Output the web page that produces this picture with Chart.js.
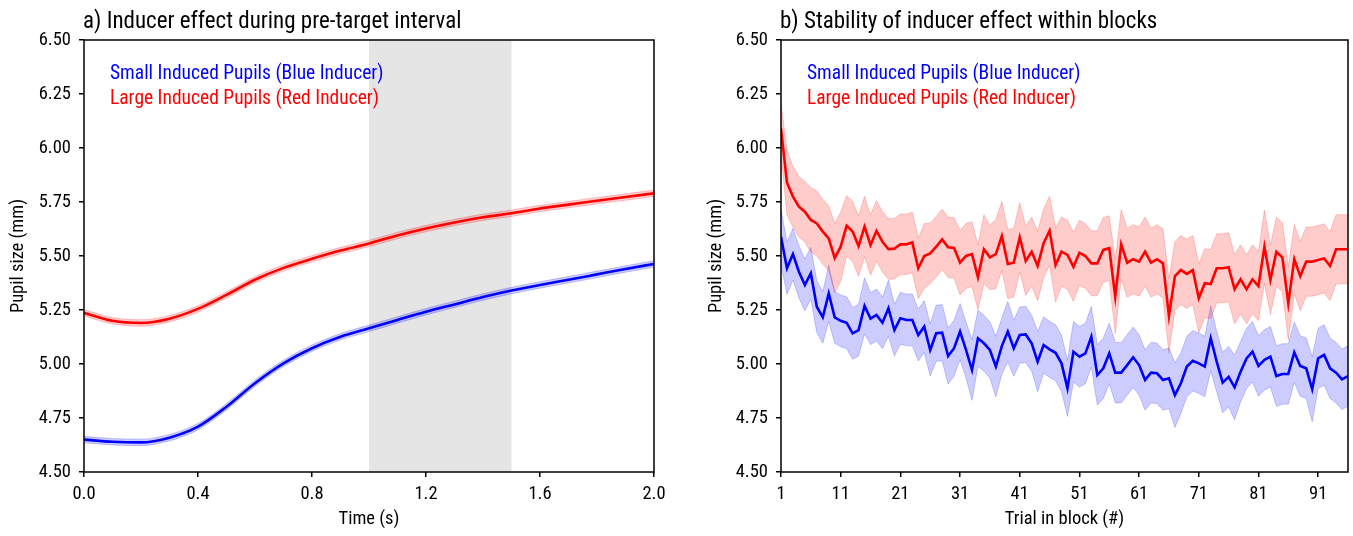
<!DOCTYPE html>
<html><head><meta charset="utf-8">
<script src="https://cdn.jsdelivr.net/npm/chart.js@4.4.1/dist/chart.umd.min.js"></script>
<style>
html,body{margin:0;padding:0;background:#fff;width:1353px;height:536px;overflow:hidden}
#wa{position:absolute;left:0;top:0;width:677px;height:536px}
#wb{position:absolute;left:677px;top:0;width:676px;height:536px}
</style></head><body>
<div id="wa"><canvas id="ca"></canvas></div>
<div id="wb"><canvas id="cb"></canvas></div>
<script>
// ---------- Panel a data ----------
const timeS = [0.0,0.1,0.2,0.3,0.4,0.5,0.6,0.7,0.8,0.9,1.0,1.1,1.2,1.3,1.4,1.5,1.6,1.7,1.8,1.9,2.0];
const redA  = [5.237,5.200,5.190,5.210,5.255,5.320,5.390,5.445,5.487,5.525,5.558,5.595,5.627,5.655,5.679,5.698,5.720,5.738,5.756,5.773,5.790];
const blueA = [4.650,4.640,4.637,4.659,4.710,4.802,4.911,5.003,5.073,5.126,5.165,5.204,5.242,5.276,5.310,5.340,5.366,5.390,5.415,5.440,5.463];
const redAErr  = [0.015,0.015,0.015,0.015,0.015,0.015,0.015,0.015,0.015,0.015,0.015,0.015,0.015,0.015,0.015,0.015,0.015,0.015,0.015,0.015,0.015];
const blueAErr = [0.015,0.015,0.015,0.015,0.015,0.015,0.015,0.015,0.015,0.015,0.015,0.015,0.015,0.015,0.015,0.015,0.015,0.015,0.015,0.015,0.015];
const shadeSpan = [1.0, 1.5];
const timeTicks = [0.0,0.4,0.8,1.2,1.6,2.0];

// ---------- Panel b data ----------
const trialCount = 96;
const trials = Array.from({length: trialCount}, (_, i) => i + 1);
const redB = [6.090,5.840,5.775,5.728,5.705,5.667,5.651,5.613,5.582,5.490,
  5.543,5.640,5.613,5.546,5.636,5.551,5.616,5.566,5.532,5.534,
  5.554,5.554,5.563,5.443,5.500,5.512,5.543,5.577,5.540,5.537,
  5.469,5.500,5.509,5.401,5.531,5.494,5.509,5.593,5.463,5.469,
  5.587,5.477,5.520,5.454,5.559,5.617,5.458,5.520,5.505,5.450,
  5.515,5.500,5.466,5.466,5.528,5.536,5.312,5.554,5.469,5.485,
  5.474,5.520,5.469,5.485,5.466,5.222,5.407,5.435,5.417,5.435,
  5.304,5.374,5.370,5.443,5.443,5.448,5.346,5.392,5.346,5.392,
  5.361,5.543,5.389,5.520,5.494,5.281,5.485,5.407,5.474,5.474,
  5.481,5.489,5.454,5.531,5.531,5.531];
const blueB = [5.589,5.443,5.509,5.427,5.366,5.420,5.265,5.216,5.327,5.216,
  5.200,5.191,5.142,5.157,5.269,5.210,5.227,5.191,5.258,5.157,
  5.212,5.204,5.204,5.134,5.173,5.065,5.142,5.145,5.037,5.073,
  5.150,5.065,4.972,5.119,5.096,5.065,4.988,5.083,5.150,5.073,
  5.134,5.137,5.096,5.011,5.088,5.068,5.052,5.003,4.887,5.057,
  5.034,5.049,5.126,4.949,4.980,5.049,4.960,4.960,4.995,5.031,
  4.995,4.926,4.960,4.957,4.926,4.934,4.856,4.911,4.988,5.015,
  5.003,4.988,5.119,5.011,4.914,4.941,4.892,4.964,5.026,5.057,
  4.991,5.019,5.034,4.944,4.954,4.954,5.054,4.991,4.980,4.883,
  5.026,5.042,4.980,4.960,4.929,4.944];
const redBErr = [0.12,0.15,0.14,0.14,0.14,0.15,0.15,0.15,0.15,0.16,
  0.16,0.14,0.14,0.14,0.14,0.14,0.14,0.14,0.14,0.14,
  0.14,0.14,0.14,0.14,0.15,0.14,0.14,0.14,0.14,0.14,
  0.15,0.15,0.15,0.15,0.16,0.15,0.16,0.16,0.16,0.16,
  0.16,0.16,0.16,0.16,0.16,0.16,0.17,0.16,0.16,0.16,
  0.15,0.15,0.15,0.15,0.15,0.15,0.17,0.16,0.16,0.16,
  0.16,0.16,0.16,0.16,0.16,0.17,0.16,0.16,0.16,0.16,
  0.16,0.16,0.16,0.16,0.16,0.16,0.16,0.16,0.16,0.16,
  0.16,0.17,0.16,0.16,0.16,0.17,0.16,0.16,0.16,0.16,
  0.16,0.16,0.16,0.16,0.16,0.16];
const blueBErr = [0.13,0.12,0.12,0.12,0.12,0.12,0.12,0.12,0.13,0.12,
  0.12,0.12,0.12,0.12,0.13,0.12,0.12,0.12,0.13,0.12,
  0.12,0.12,0.12,0.12,0.12,0.12,0.13,0.13,0.13,0.13,
  0.13,0.13,0.14,0.13,0.13,0.13,0.14,0.13,0.14,0.13,
  0.13,0.13,0.13,0.14,0.13,0.13,0.13,0.13,0.13,0.14,
  0.14,0.14,0.14,0.14,0.14,0.14,0.14,0.14,0.14,0.14,
  0.14,0.14,0.14,0.14,0.14,0.14,0.15,0.14,0.14,0.14,
  0.14,0.14,0.15,0.14,0.14,0.14,0.15,0.14,0.14,0.14,
  0.14,0.14,0.14,0.14,0.14,0.14,0.14,0.14,0.14,0.15,
  0.14,0.14,0.14,0.14,0.14,0.14];
const trialTicks = [1,11,21,31,41,51,61,71,81,91];
const pupilTicks = [4.50,4.75,5.00,5.25,5.50,5.75,6.00,6.25,6.50];

const legendLabels = ['Small Induced Pupils (Blue Inducer)', 'Large Induced Pupils (Red Inducer)'];
const RED = '#ff0000', BLUE = '#0000ff';

// ---------- font pick ----------
function pickFont(){
  const ctx = document.createElement('canvas').getContext('2d');
  const s = 'abcdefghijklmnopqrstuvwxyz ABCDEFGH 0123456789';
  const cands = ['Roboto Condensed','Liberation Sans Narrow','DejaVu Sans Condensed','Roboto'];
  for (const f of cands){
    let ok = true;
    for (const base of ['monospace','serif']){
      ctx.font = '20px ' + base; const w0 = ctx.measureText(s).width;
      ctx.font = '20px "' + f + '", ' + base; const w1 = ctx.measureText(s).width;
      if (Math.abs(w0 - w1) < 0.5) ok = false;
    }
    if (ok) return f;
  }
  return 'sans-serif';
}
const FAM = pickFont();
const FF = '"' + FAM + '", sans-serif';
Chart.defaults.font.family = FF;
Chart.defaults.color = '#000';

const TICK_PX = 18.5, AXIS_PX = 18.5, TITLE_PX = 23, LEG_PX = 19.5;

function pts(xs, ys, off, sign){ return xs.map((x,i)=>({x:x, y: ys[i] + (off ? sign*off[i] : 0)})); }

const decoPlugin = {
  id: 'deco',
  beforeDatasetsDraw(chart, args, o){
    if (!o.span) return;
    const {ctx, chartArea:a, scales:{x}} = chart;
    const x0 = x.getPixelForValue(o.span[0]), x1 = x.getPixelForValue(o.span[1]);
    ctx.save(); ctx.fillStyle = '#e5e5e5';
    ctx.fillRect(x0, a.top, x1 - x0, a.bottom - a.top);
    ctx.restore();
  },
  afterDraw(chart, args, o){
    const {ctx, chartArea:a} = chart;
    ctx.save();
    ctx.strokeStyle = '#000'; ctx.lineWidth = 1.5;
    ctx.strokeRect(a.left, a.top, a.right - a.left, a.bottom - a.top);
    ctx.textBaseline = 'alphabetic';
    ctx.fillStyle = '#000'; ctx.textAlign = 'left';
    ctx.font = TITLE_PX + 'px ' + FF;
    ctx.fillText(o.title, a.left - 1, 28);
    ctx.font = LEG_PX + 'px ' + FF;
    ctx.fillStyle = BLUE; ctx.fillText(legendLabels[0], a.left + 26, 79);
    ctx.fillStyle = RED;  ctx.fillText(legendLabels[1], a.left + 26, 104);
    ctx.fillStyle = '#000'; ctx.font = AXIS_PX + 'px ' + FF;
    ctx.textAlign = 'center'; ctx.textBaseline = 'middle';
    ctx.fillText(o.xTitle, (a.left + a.right)/2, 519);
    ctx.translate(o.yTitleX, (a.top + a.bottom)/2);
    ctx.rotate(-Math.PI/2);
    ctx.fillText(o.yTitle, 0, 0);
    ctx.restore();
  }
};

function axisCommon(){
  return {
    grid: {drawOnChartArea:false, drawTicks:true, tickLength:5, color:'#000', lineWidth:1.5},
    border: {display:false},
  };
}

function makeChart(id, cfg){
  return new Chart(document.getElementById(id), {
    type: 'line',
    data: {datasets: cfg.datasets},
    plugins: [decoPlugin],
    options: {
      responsive: true, maintainAspectRatio: false, animation: false,
      layout: {padding: {top:40, right: cfg.padRight, bottom:0, left:0}},
      plugins: {legend:{display:false}, tooltip:{enabled:false}, title:{display:false},
        deco: {title: cfg.title, xTitle: cfg.xTitle, yTitle: 'Pupil size (mm)', yTitleX: cfg.yTitleX, span: cfg.span}},
      elements: {point:{radius:0}},
      scales: {
        x: Object.assign(axisCommon(), {
          type:'linear', min: cfg.xMin, max: cfg.xMax,
          afterBuildTicks: s => { s.ticks = cfg.xTicks.map(v => ({value:v})); },
          afterFit: s => { s.height = 64; },
          ticks: {font:{size:TICK_PX}, color:'#000', padding:6, maxRotation:0, autoSkip:false,
            callback: cfg.xFmt}
        }),
        y: Object.assign(axisCommon(), {
          type:'linear', min:4.5, max:6.5,
          afterBuildTicks: s => { s.ticks = pupilTicks.map(v => ({value:v})); },
          afterFit: s => { s.width = cfg.yWidth; },
          ticks: {font:{size:TICK_PX}, color:'#000', padding:8, callback: v => Number(v).toFixed(2)}
        })
      }
    }
  });
}

function bandSets(xs, ys, err, rgb, alpha, smooth){
  const base = {pointRadius:0, borderWidth:1, borderColor:`rgba(${rgb},${alpha})`, order:2,
    cubicInterpolationMode: smooth ? 'monotone' : 'default', tension:0};
  return [
    Object.assign({}, base, {data: pts(xs, ys, err, -1), fill:false}),
    Object.assign({}, base, {data: pts(xs, ys, err, +1), fill:'-1', backgroundColor:`rgba(${rgb},${alpha})`})
  ];
}

makeChart('ca', {
  title: 'a) Inducer effect during pre-target interval',
  xTitle: 'Time (s)', yTitleX: 18, padRight: 23, yWidth: 84,
  xMin: 0, xMax: 2, xTicks: timeTicks, xFmt: v => Number(v).toFixed(1), span: shadeSpan,
  datasets: [
    ...bandSets(timeS, redA, redAErr, '255,0,0', 0.2, true),
    ...bandSets(timeS, blueA, blueAErr, '0,0,255', 0.2, true),
    {data: pts(timeS, redA), borderColor: RED, borderWidth: 2.6, pointRadius:0, fill:false, cubicInterpolationMode:'monotone', order:0},
    {data: pts(timeS, blueA), borderColor: BLUE, borderWidth: 2.6, pointRadius:0, fill:false, cubicInterpolationMode:'monotone', order:0}
  ]
});

makeChart('cb', {
  title: 'b) Stability of inducer effect within blocks',
  xTitle: 'Trial in block (#)', yTitleX: 39, padRight: 5, yWidth: 104,
  xMin: 1, xMax: trialCount, xTicks: trialTicks, xFmt: v => String(v), span: null,
  datasets: [
    ...bandSets(trials, redB, redBErr, '255,0,0', 0.2, false),
    ...bandSets(trials, blueB, blueBErr, '0,0,255', 0.2, false),
    {data: pts(trials, redB), borderColor: RED, borderWidth: 2.6, pointRadius:0, fill:false, tension:0, order:0},
    {data: pts(trials, blueB), borderColor: BLUE, borderWidth: 2.6, pointRadius:0, fill:false, tension:0, order:0}
  ]
});
</script>
</body></html>
